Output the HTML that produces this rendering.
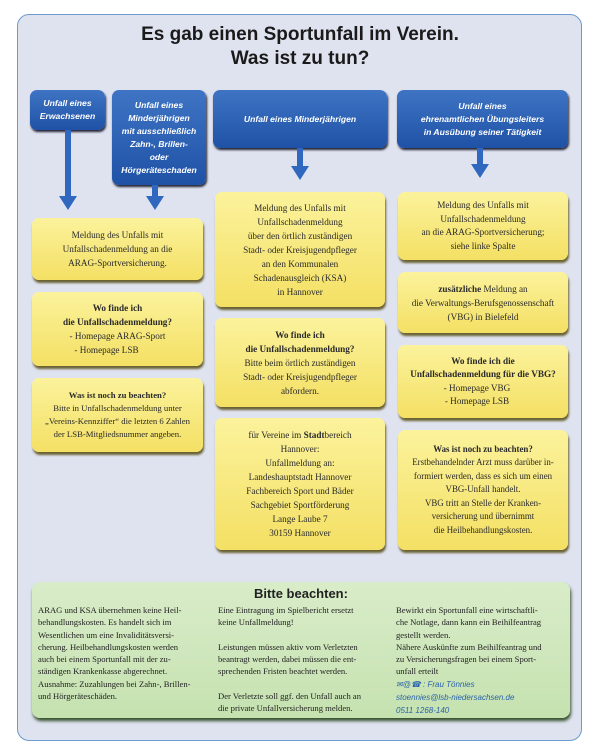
<!DOCTYPE html>
<html><head><meta charset="utf-8"><style>
*{margin:0;padding:0;box-sizing:border-box}
body{width:600px;height:748px;background:#fff;position:relative;overflow:hidden;font-family:"Liberation Serif",serif;color:#222}
.frame{position:absolute;left:17px;top:14px;width:565px;height:727px;background:#dfe3f0;border:1.5px solid #6a9ad0;border-radius:12px}
.t{position:absolute;left:0;width:600px;text-align:center;font-family:"Liberation Sans",sans-serif;font-weight:bold;font-size:19px;color:#1a1a1a}
.b{position:absolute;background:linear-gradient(#3f74c4,#1f52a6);border-radius:7px;color:#fff;font-family:"Liberation Sans",sans-serif;font-style:italic;font-weight:bold;font-size:8.6px;line-height:13px;text-align:center;display:flex;align-items:center;justify-content:center;box-shadow:1px 2px 2px #223}
.y{position:absolute;background:linear-gradient(#fbf29c,#f4e064);border-radius:7px;font-size:9.2px;line-height:14px;text-align:center;display:flex;align-items:center;justify-content:center;box-shadow:1px 3px 2px #6a6233;color:#2a2a2a}
.ar{position:absolute;width:6px;background:#2f68be}
.ah{position:absolute;width:0;height:0;border-left:9px solid transparent;border-right:9px solid transparent;border-top:14px solid #2f68be}
.g{position:absolute;left:32px;top:582px;width:538px;height:136px;background:linear-gradient(#d9ecc9,#c6e2b0);border-radius:8px;box-shadow:1px 3px 3px #34502a}
.g h3{text-align:center;font-family:"Liberation Sans",sans-serif;font-size:13px;margin-top:4px}
.col{position:absolute;top:22px;font-size:8.6px;line-height:12.3px}
.blue{color:#2a63a8;font-style:italic;font-family:"Liberation Sans",sans-serif;font-size:8px}
</style></head><body>
<div class="frame"></div>
<div class="t" style="top:24px">Es gab einen Sportunfall im Verein.</div>
<div class="t" style="top:48px">Was ist zu tun?</div>

<div class="b" style="left:30px;top:90px;width:75px;height:40px">Unfall eines<br>Erwachsenen</div>
<div class="b" style="left:112px;top:90px;width:94px;height:95px">Unfall eines<br>Minderjährigen<br>mit ausschließlich<br>Zahn-, Brillen-<br>oder<br>Hörgeräteschaden</div>
<div class="b" style="left:213px;top:90px;width:174px;height:58px">Unfall eines Minderjährigen</div>
<div class="b" style="left:397px;top:90px;width:171px;height:58px">Unfall eines<br>ehrenamtlichen Übungsleiters<br>in Ausübung seiner Tätigkeit</div>

<div class="ar" style="left:65px;top:130px;height:68px"></div><div class="ah" style="left:59px;top:196px"></div>
<div class="ar" style="left:152px;top:185px;height:12px"></div><div class="ah" style="left:146px;top:196px"></div>
<div class="ar" style="left:297px;top:148px;height:20px"></div><div class="ah" style="left:291px;top:166px"></div>
<div class="ar" style="left:477px;top:148px;height:18px"></div><div class="ah" style="left:471px;top:164px"></div>

<div class="y" style="left:32px;top:218px;width:171px;height:62px"><div>Meldung des Unfalls mit<br>Unfallschadenmeldung an die<br>ARAG-Sportversicherung.</div></div>
<div class="y" style="left:32px;top:292px;width:171px;height:74px"><div><b>Wo finde ich<br>die Unfallschadenmeldung?</b><br>- Homepage ARAG-Sport<br><span style="margin-right:22px">- Homepage LSB</span></div></div>
<div class="y" style="left:32px;top:378px;width:171px;height:74px;font-size:8.7px;line-height:13px"><div><b>Was ist noch zu beachten?</b><br>Bitte in Unfallschadenmeldung unter<br>„Vereins-Kennziffer“ die letzten 6 Zahlen<br>der LSB-Mitgliedsnummer angeben.</div></div>

<div class="y" style="left:215px;top:192px;width:170px;height:115px"><div>Meldung des Unfalls mit<br>Unfallschadenmeldung<br>über den örtlich zuständigen<br>Stadt- oder Kreisjugendpfleger<br>an den Kommunalen<br>Schadenausgleich (KSA)<br>in Hannover</div></div>
<div class="y" style="left:215px;top:318px;width:170px;height:89px"><div><b>Wo finde ich<br>die Unfallschadenmeldung?</b><br>Bitte beim örtlich zuständigen<br>Stadt- oder Kreisjugendpfleger<br>abfordern.</div></div>
<div class="y" style="left:215px;top:418px;width:170px;height:132px"><div>für Vereine im <b>Stadt</b>bereich<br>Hannover:<br>Unfallmeldung an:<br>Landeshauptstadt Hannover<br>Fachbereich Sport und Bäder<br>Sachgebiet Sportförderung<br>Lange Laube 7<br>30159 Hannover</div></div>

<div class="y" style="left:398px;top:192px;width:170px;height:68px;line-height:13.5px"><div>Meldung des Unfalls mit<br>Unfallschadenmeldung<br>an die ARAG-Sportversicherung;<br>siehe linke Spalte</div></div>
<div class="y" style="left:398px;top:272px;width:170px;height:61px"><div><b>zusätzliche</b> Meldung an<br>die Verwaltungs-Berufsgenossenschaft<br>(VBG) in Bielefeld</div></div>
<div class="y" style="left:398px;top:345px;width:170px;height:73px;line-height:13.5px"><div><b>Wo finde ich die<br>Unfallschadenmeldung für die VBG?</b><br><span style="margin-right:12px">- Homepage VBG</span><br><span style="margin-right:12px">- Homepage LSB</span></div></div>
<div class="y" style="left:398px;top:430px;width:170px;height:120px;line-height:13.5px;font-size:8.9px"><div><b>Was ist noch zu beachten?</b><br>Erstbehandelnder Arzt muss darüber in-<br>formiert werden, dass es sich um einen<br>VBG-Unfall handelt.<br>VBG tritt an Stelle der Kranken-<br>versicherung und übernimmt<br>die Heilbehandlungskosten.</div></div>

<div class="g"><h3>Bitte beachten:</h3>
<div class="col" style="left:6px">ARAG und KSA übernehmen keine Heil-<br>behandlungskosten. Es handelt sich im<br>Wesentlichen um eine Invaliditätsversi-<br>cherung. Heilbehandlungskosten werden<br>auch bei einem Sportunfall mit der zu-<br>ständigen Krankenkasse abgerechnet.<br>Ausnahme: Zuzahlungen bei Zahn-, Brillen-<br>und Hörgeräteschäden.</div>
<div class="col" style="left:186px">Eine Eintragung im Spielbericht ersetzt<br>keine Unfallmeldung!<br><br>Leistungen müssen aktiv vom Verletzten<br>beantragt werden, dabei müssen die ent-<br>sprechenden Fristen beachtet werden.<br><br>Der Verletzte soll ggf. den Unfall auch an<br>die private Unfallversicherung melden.</div>
<div class="col" style="left:364px">Bewirkt ein Sportunfall eine wirtschaftli-<br>che Notlage, dann kann ein Beihilfeantrag<br>gestellt werden.<br>Nähere Auskünfte zum Beihilfeantrag und<br>zu Versicherungsfragen bei einem Sport-<br>unfall erteilt<br><span class="blue">✉@☎ : Frau Tönnies<br>stoennies@lsb-niedersachsen.de<br>0511 1268-140</span></div>
</div>
</body></html>
